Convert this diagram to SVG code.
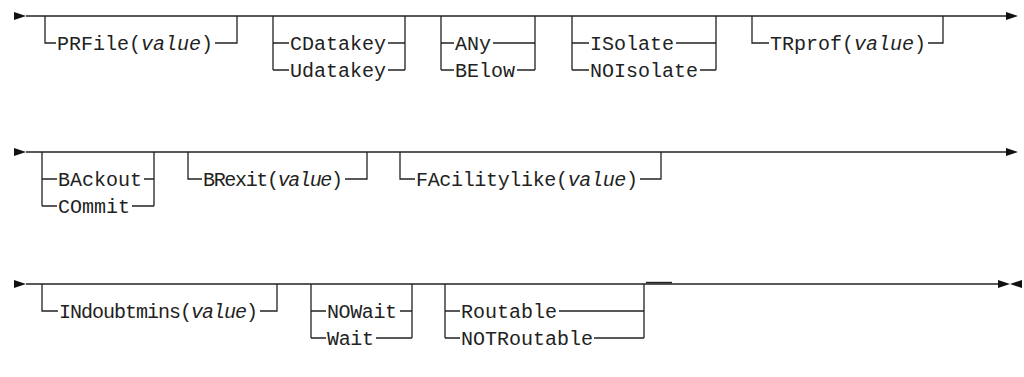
<svg xmlns="http://www.w3.org/2000/svg" width="1024" height="377" viewBox="0 0 1024 377">
<style>
  .ln { fill: none; stroke: #222; stroke-width: 1.3; }
  .ar { fill: #111; stroke: none; }
  text { font-family: "Liberation Mono", "DejaVu Sans Mono", monospace; font-size: 20px; fill: #222; }
  .it { font-style: italic; }
</style>
<rect width="1024" height="377" fill="#fff"/>
<g id="connectors">
  <!-- row 1 -->
  <polygon class="ar" points="14,12 26,16 14,20"/>
  <path class="ln" d="M26,16 H1008"/>
  <polygon class="ar" points="1006,12 1018,16 1006,20"/>
  <!-- row 2 -->
  <polygon class="ar" points="14,148 26,152 14,156"/>
  <path class="ln" d="M26,152 H1008"/>
  <polygon class="ar" points="1006,148 1018,152 1006,156"/>
  <!-- row 3 -->
  <polygon class="ar" points="14,280 26,284 14,288"/>
  <path class="ln" d="M26,284 H1000"/>
  <path d="M646,282.6 H672" stroke="#222" stroke-width="1.6"/>
  <polygon class="ar" points="998,280 1010,284 998,288"/>
  <polygon class="ar" points="1022,280 1010,284 1022,288"/>
</g>
<g id="prfile">
  <path class="ln" d="M45,16 V43 H56 M215,43 H237 V16"/>
  <text x="57" y="50">PRFile(<tspan class="it">value</tspan>)</text>
</g>
<g id="datakey">
  <path class="ln" d="M273,16 V70 M273,43 H289 M273,70 H289 M405,16 V70 M388,43 H405 M388,70 H405"/>
  <text x="290" y="50">CDatakey</text>
  <text x="290" y="77">Udatakey</text>
</g>
<g id="any">
  <path class="ln" d="M441,16 V70 M441,43 H454 M441,70 H454 M535,16 V70 M493,43 H535 M517,70 H535"/>
  <text x="455" y="50">ANy</text>
  <text x="455" y="77">BElow</text>
</g>
<g id="isolate">
  <path class="ln" d="M572,16 V70 M572,43 H589 M572,70 H589 M716,16 V70 M676,43 H716 M700,70 H716"/>
  <text x="590" y="50">ISolate</text>
  <text x="590" y="77">NOIsolate</text>
</g>
<g id="trprof">
  <path class="ln" d="M752,16 V43 H769 M928,43 H943 V16"/>
  <text x="770" y="50">TRprof(<tspan class="it">value</tspan>)</text>
</g>
<g id="backout">
  <path class="ln" d="M42,152 V206 M42,179 H57 M42,206 H57 M154,152 V206 M144,179 H154 M132,206 H154"/>
  <text x="58" y="186">BAckout</text>
  <text x="58" y="213">COmmit</text>
</g>
<g id="brexit">
  <path class="ln" d="M188,152 V179 H202 M345,179 H367 V152"/>
  <text x="203" y="186" textLength="140" lengthAdjust="spacing">BRexit(<tspan class="it">value</tspan>)</text>
</g>
<g id="facilitylike">
  <path class="ln" d="M400,152 V179 H415 M640,179 H661 V152"/>
  <text x="416" y="186" textLength="222" lengthAdjust="spacing">FAcilitylike(<tspan class="it">value</tspan>)</text>
</g>
<g id="indoubtmins">
  <path class="ln" d="M42,284 V311 H58 M260,311 H277 V284"/>
  <text x="59" y="318" textLength="199" lengthAdjust="spacing">INdoubtmins(<tspan class="it">value</tspan>)</text>
</g>
<g id="nowait">
  <path class="ln" d="M311,284 V338 M311,311 H326 M311,338 H326 M412,284 V338 M400,311 H412 M376,338 H412"/>
  <text x="327" y="318" textLength="70" lengthAdjust="spacing">NOWait</text>
  <text x="327" y="345" textLength="47" lengthAdjust="spacing">Wait</text>
</g>
<g id="routable">
  <path class="ln" d="M445,284 V338 M445,311 H460 M445,338 H460 M644,284 V338 M559,311 H644 M594,338 H644"/>
  <text x="461" y="318">Routable</text>
  <text x="461" y="345">NOTRoutable</text>
</g>
</svg>
